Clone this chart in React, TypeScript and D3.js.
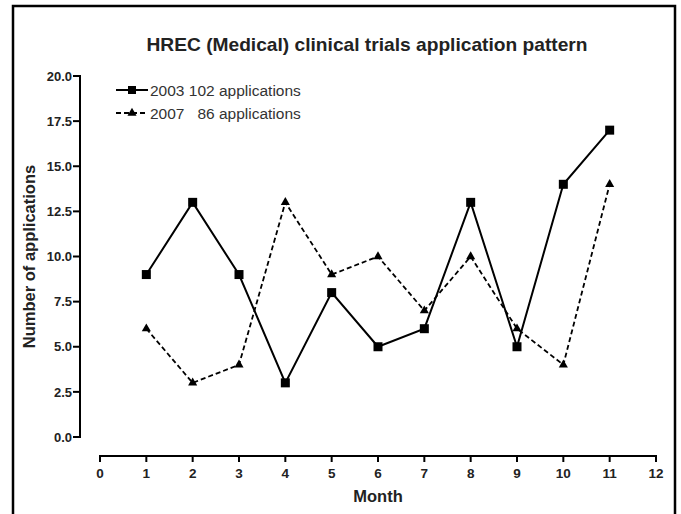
import React from "react";
import * as d3 from "d3";

const months = [1, 2, 3, 4, 5, 6, 7, 8, 9, 10, 11];
const series2003 = [9, 13, 9, 3, 8, 5, 6, 13, 5, 14, 17];
const series2007 = [6, 3, 4, 13, 9, 10, 7, 10, 6, 4, 14];
const yTicks = [0, 2.5, 5, 7.5, 10, 12.5, 15, 17.5, 20];
const xTicks = [0, 1, 2, 3, 4, 5, 6, 7, 8, 9, 10, 11, 12];
const legendLabels = ["2003 102 applications", "2007   86 applications"];
const title = "HREC (Medical) clinical trials application pattern";

const W = 681;
const H = 514;
const font = "Liberation Sans, Arial, Helvetica, sans-serif";

export default function App() {
  const x = d3.scaleLinear().domain([0, 12]).range([100, 656]);
  const y = d3.scaleLinear().domain([0, 20]).range([437, 76]);
  const xAxisY = 456;
  const yAxisX = 80;

  const line = d3
    .line<number>()
    .x((_, i) => x(months[i]))
    .y((d) => y(d));

  const tri = d3.symbol().type(d3.symbolTriangle).size(36)();

  return (
    <svg
      width={W}
      height={H}
      style={{ position: "absolute", left: 0, top: 0, background: "#fff" }}
      fontFamily={font}
    >
      <rect x={0} y={0} width={W} height={H} fill="#fff" />
      {/* outer frame */}
      <path d={`M13,${H + 5} L13,6 L675,6 L675,${H + 5}`} fill="none" stroke="#000" strokeWidth={2.5} />

      <text x={367} y={51} textAnchor="middle" fontSize={19} fontWeight="bold" fill="#222" textLength={441} lengthAdjust="spacingAndGlyphs">
        {title}
      </text>

      {/* y axis */}
      <line x1={yAxisX} x2={yAxisX} y1={y(20) - 1} y2={y(0) + 1} stroke="#000" strokeWidth={2} />
      {yTicks.map((t) => (
        <g key={t}>
          <line x1={yAxisX - 7} x2={yAxisX} y1={y(t)} y2={y(t)} stroke="#000" strokeWidth={2} />
          <text x={yAxisX - 8} y={y(t)} dy="0.36em" textAnchor="end" fontSize={13} fontWeight="bold" fill="#222">
            {t.toFixed(1)}
          </text>
        </g>
      ))}
      <text
        transform={`translate(35,${(y(0) + y(20)) / 2 + 0}) rotate(-90)`}
        textAnchor="middle"
        fontSize={16.5}
        fontWeight="bold"
        fill="#222"
      >
        Number of applications
      </text>

      {/* x axis */}
      <line x1={x(0) - 1} x2={x(12) + 1} y1={xAxisY} y2={xAxisY} stroke="#000" strokeWidth={2} />
      {xTicks.map((t) => (
        <g key={t}>
          <line x1={x(t)} x2={x(t)} y1={xAxisY} y2={xAxisY + 6} stroke="#000" strokeWidth={2} />
          <text x={x(t)} y={xAxisY + 22} textAnchor="middle" fontSize={13.5} fontWeight="bold" fill="#222">
            {t}
          </text>
        </g>
      ))}
      <text x={x(6)} y={502} textAnchor="middle" fontSize={16.5} fontWeight="bold" fill="#222">
        Month
      </text>

      {/* series 2003 */}
      <path d={line(series2003) || ""} fill="none" stroke="#000" strokeWidth={2} />
      {series2003.map((v, i) => (
        <rect key={i} x={x(months[i]) - 4.5} y={y(v) - 4.5} width={9} height={9} fill="#000" />
      ))}

      {/* series 2007 */}
      <path d={line(series2007) || ""} fill="none" stroke="#000" strokeWidth={1.8} strokeDasharray="5,3" />
      {series2007.map((v, i) => (
        <path key={i} d={tri || ""} transform={`translate(${x(months[i])},${y(v)})`} fill="#000" />
      ))}

      {/* legend */}
      <g>
        <line x1={116} x2={148} y1={90} y2={90} stroke="#000" strokeWidth={2} />
        <rect x={128} y={86} width={8} height={8} fill="#000" />
        <text x={150} y={90} dy="0.36em" fontSize={15.5} fill="#333">
          {legendLabels[0]}
        </text>
        <line x1={116} x2={148} y1={113} y2={113} stroke="#000" strokeWidth={1.8} strokeDasharray="5,3" />
        <path d={tri || ""} transform={`translate(132,113)`} fill="#000" />
        <text x={150} y={113} dy="0.36em" fontSize={15.5} fill="#333" style={{ whiteSpace: "pre" }}>
          {legendLabels[1]}
        </text>
      </g>
    </svg>
  );
}
